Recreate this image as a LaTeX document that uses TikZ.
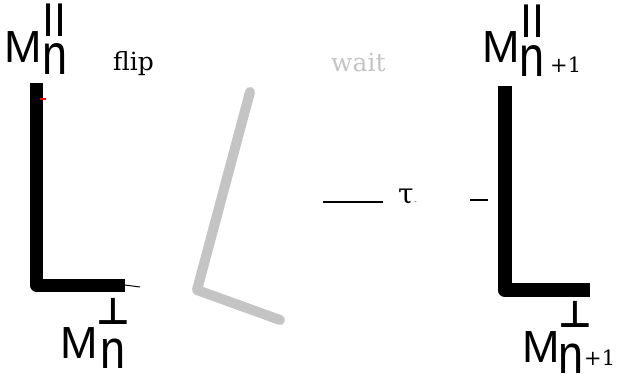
\documentclass[tikz,border=0pt]{standalone}
\usepackage{fontspec}
\newfontfamily\sansM{Liberation Sans}
\newfontfamily\serifD{DejaVu Serif}
\newfontfamily\symD{DejaVu Sans Bold}
\definecolor{lgray}{HTML}{C4C4C4}
\begin{document}
\begin{tikzpicture}[x=1pt,y=-1pt,
  lbl/.style={inner sep=0pt, anchor=base west},
  bigM/.style={lbl, font=\sansM\fontsize{45}{45}\selectfont},
  perpsym/.style={lbl, font=\symD\fontsize{37}{37}\selectfont},
  serlbl/.style={lbl, font=\serifD\fontsize{25}{25}\selectfont},
  idx/.style={lbl, font=\serifD\fontsize{21}{21}\selectfont},
  thickL/.style={line width=13pt, line join=round},
]
\useasboundingbox (0,0) rectangle (621,374);
% coordinates
\coordinate (la) at (36.5,83);
\coordinate (lc) at (36.5,285);
\coordinate (lb) at (125,285);
\coordinate (lt) at (140,287);
\coordinate (ra) at (504.5,86);
\coordinate (rc) at (504.5,290);
\coordinate (rb) at (590,290);
\coordinate (ga) at (250,92);
\coordinate (gc) at (197,290);
\coordinate (gb) at (280,320);
\coordinate (ma) at (323,202);
\coordinate (mb) at (383,202);
\coordinate (sa) at (470,200);
\coordinate (sb) at (488,200);
\coordinate (ra1) at (40,99);
\coordinate (ra2) at (46,99);
% left L
\draw[thickL] (la) -- (lc) -- (lb);
\draw[line width=1pt] (lb) -- (lt);
\draw[red, line width=1.5pt] (ra1) -- (ra2);
% gray L
\draw[lgray, line width=10pt, line cap=round, line join=round] (ga) -- (gc) -- (gb);
% right L
\draw[line width=14pt, line join=round] (ra) -- (rc) -- (rb);
% middle lines
\draw[line width=1.2pt] (ma) -- (mb);
\draw[line width=1.2pt] (sa) -- (sb);
% labels top left
\node[bigM] (mtl) at (4,63) {M};
\node[bigM] (ntl) at (42,75) {\scalebox{1}[1.28]{n}};
\node[bigM] (ptl) at (43,37) {l\kern2pt l};
\node[serlbl] (flip) at (113,71) {flip};
\node[serlbl, text=lgray] (wait) at (331,72) {wait};
\node[serlbl] (tau) at (398,204) {\fontsize{28}{28}\selectfont τ\kern1pt{\fontsize{6}{6}\selectfont -}};
% top right
\node[bigM] (mtr) at (482,63) {M};
\node[bigM] (ntr) at (519,77) {\scalebox{1}[1.28]{n}};
\node[bigM] (ptr) at (521,38) {l\kern2pt l};
\node[idx] (itr) at (550,73) {+1};
% bottom left
\node[perpsym] (perpl) at (96,324) {⊥};
\node[bigM] (mbl) at (60,358) {M};
\node[bigM] (nbl) at (100,368) {\scalebox{1}[1.22]{n}};
% bottom right
\node[perpsym] (perpr) at (558,327) {⊥};
\node[bigM] (mbr) at (522,362) {M};
\node[bigM] (nbr) at (558,373) {\scalebox{1}[1.22]{n}};
\node[idx] (ibr) at (584,365) {+1};
\end{tikzpicture}
\end{document}
